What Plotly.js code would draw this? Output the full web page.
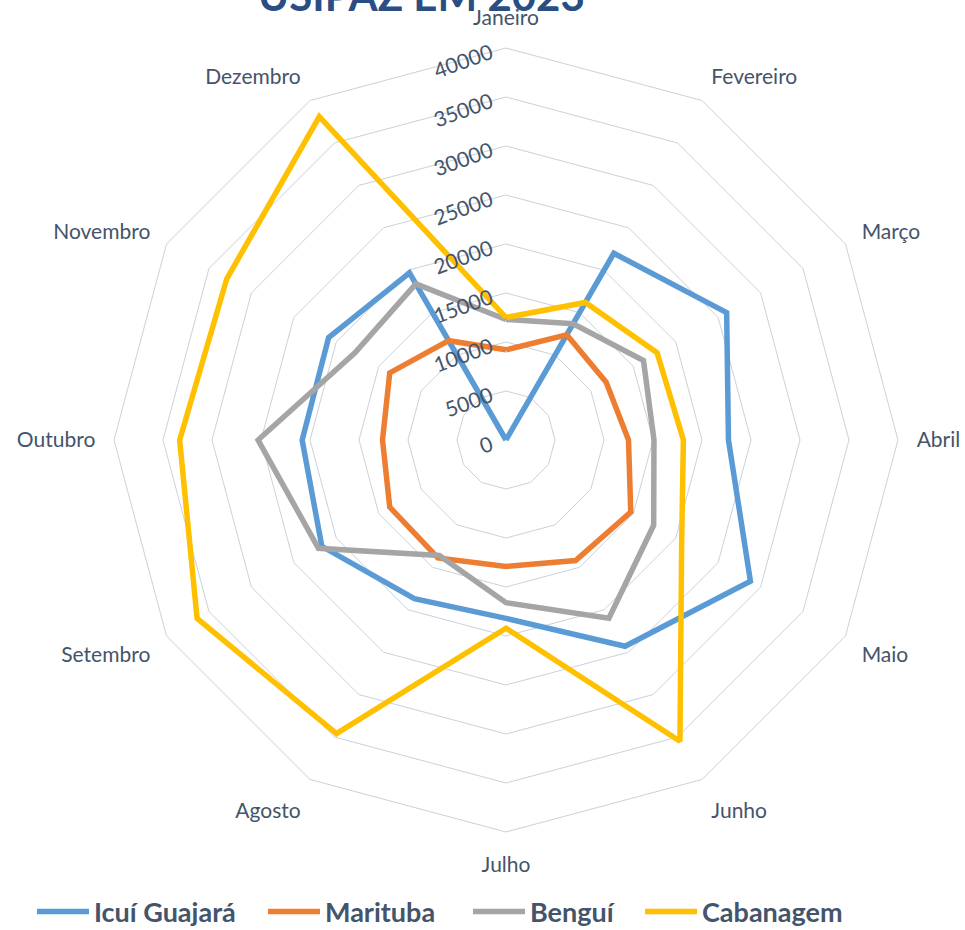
<!DOCTYPE html>
<html>
<head>
<meta charset="utf-8">
<script src="https://cdn.plot.ly/plotly-3.0.1.min.js"></script>
<style>html,body{margin:0;padding:0;background:#fff;}#chart{width:965px;height:930px;}</style>
</head>
<body>
<div id="chart"></div>
<script>
var months = ["Janeiro","Fevereiro","Março","Abril","Maio","Junho","Julho","Agosto","Setembro","Outubro","Novembro","Dezembro"];
var seriesNames = ["Icuí Guajará","Marituba","Benguí","Cabanagem"];
var icui = [0, 22000, 26000, 22700, 28800, 24300, 18200, 18700, 21700, 20800, 20900, 19700];
var marituba = [9200, 12400, 11800, 12500, 14700, 14200, 12900, 13900, 13700, 12600, 13700, 11700];
var bengui = [12300, 13700, 16200, 15100, 17400, 21000, 16600, 13600, 22100, 25300, 17800, 18400];
var cabanagem = [12500, 16200, 17800, 18100, 20700, 35500, 19200, 34600, 36400, 33300, 32900, 38100];
var radialTicks = [0, 5000, 10000, 15000, 20000, 25000, 30000, 35000, 40000];
var chartTitle = "USIPAZ EM 2023";
var colors = ["#5B9BD5", "#ED7D31", "#A5A5A5", "#FFC000"];
var legendWidths = [164, 138, 105, 143];
var allValues = [icui, marituba, bengui, cabanagem];

var traces = allValues.map(function(vals, i) {
  return {
    type: "scatterpolar",
    mode: "lines",
    name: seriesNames[i],
    legendwidth: legendWidths[i],
    r: vals.concat([vals[0]]),
    theta: months.concat([months[0]]),
    line: {color: colors[i], width: 5.5, shape: "linear"},
    hoverinfo: "skip"
  };
});

var layout = {
  width: 965, height: 930,
  margin: {l: 114, r: 67, t: 48, b: 98, autoexpand: false},
  paper_bgcolor: "#ffffff",
  font: {family: "Lato, 'Open Sans', sans-serif", color: "#44546A"},
  showlegend: true,
  legend: {
    orientation: "h",
    xref: "paper", yref: "paper",
    x: -0.1046, xanchor: "left", y: -0.102, yanchor: "middle",
    font: {family: "Lato, sans-serif", size: 27, color: "#44546A", weight: "bold"},
    itemwidth: 52, entrywidthmode: "pixels"
  },
  annotations: [{
    text: chartTitle,
    xref: "paper", yref: "paper",
    x: 0.392, xanchor: "center",
    y: 1.033, yanchor: "bottom",
    showarrow: false,
    font: {family: "Lato, sans-serif", size: 42, color: "#2A4D84", weight: "bold"}
  }],
  polar: {
    domain: {x: [0, 1], y: [0, 1]},
    bgcolor: "#ffffff",
    gridshape: "linear",
    radialaxis: {
      range: [0, 40000],
      tickvals: radialTicks,
      ticktext: radialTicks.map(String),
      angle: 90,
      side: "counterclockwise",
      tickangle: 70,
      showline: false,
      ticks: "",
      gridcolor: "#CAD1DC",
      gridwidth: 1,
      tickfont: {family: "Lato, sans-serif", size: 21, color: "#44546A"}
    },
    angularaxis: {
      type: "category",
      categoryarray: months,
      direction: "clockwise",
      rotation: 90,
      showgrid: false,
      showline: true,
      linecolor: "#CAD1DC",
      linewidth: 1,
      ticks: "outside",
      ticklen: 14,
      tickcolor: "rgba(0,0,0,0)",
      tickfont: {family: "Lato, sans-serif", size: 21, color: "#44546A"}
    }
  }
};

Plotly.newPlot("chart", traces, layout, {displayModeBar: false, staticPlot: true});
</script>
</body>
</html>
